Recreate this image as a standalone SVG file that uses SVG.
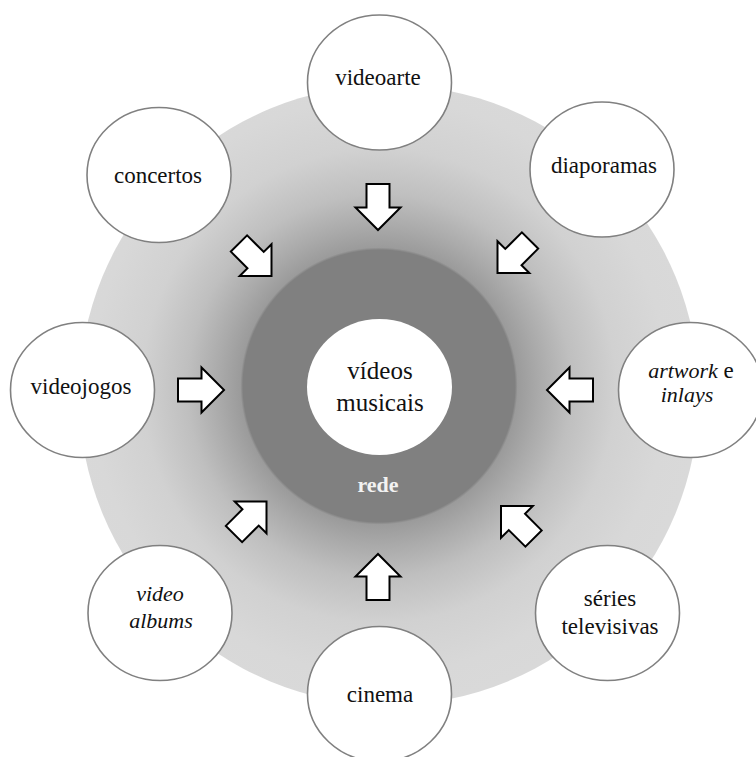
<svg xmlns="http://www.w3.org/2000/svg" xmlns:xlink="http://www.w3.org/1999/xlink" width="756" height="757" viewBox="0 0 756 757">
  <defs>
    <!-- radial field: flat dark core, then a ramp out to pale grey -->
    <radialGradient id="field" gradientUnits="userSpaceOnUse" cx="379" cy="386" r="320">
      <stop offset="0" stop-color="#808080"/>
      <stop offset="0.425" stop-color="#808080"/>
      <stop offset="0.433" stop-color="#9b9b9b"/>
      <stop offset="0.5" stop-color="#aaaaaa"/>
      <stop offset="0.6" stop-color="#bfbfbf"/>
      <stop offset="0.74" stop-color="#d1d1d1"/>
      <stop offset="0.9" stop-color="#d8d8d8"/>
      <stop offset="1" stop-color="#d9d9d9"/>
    </radialGradient>
    <!-- block arrow, tip at the origin, pointing along +x -->
    <path id="arrow" d="M-46,-11.5 H-22.5 V-22.5 L0,0 L-22.5,22.5 V11.5 H-46 Z"/>
  </defs>
  <style>
    .node ellipse { fill: #ffffff; stroke: #808080; stroke-width: 1.6; }
    .label { font-family: "Liberation Serif", "Times New Roman", serif; font-size: 23px; fill: #111111; text-anchor: middle; }
    .it { font-style: italic; font-size: 22px; }
    .up { font-style: normal; font-size: 23px; }
    .core-label { font-family: "Liberation Serif", "Times New Roman", serif; font-size: 25px; fill: #111111; text-anchor: middle; }
    .rede { font-family: "Liberation Serif", "Times New Roman", serif; font-size: 22px; font-weight: bold; fill: #f2f2f2; text-anchor: middle; }
    #connectors use { fill: #ffffff; stroke: #000000; stroke-width: 2; stroke-linejoin: miter; }
  </style>

  <!-- background field -->
  <circle cx="389" cy="395" r="310" fill="url(#field)"/>

  <!-- centre -->
  <g id="centre">
    <ellipse cx="379.5" cy="387" rx="72.5" ry="68" fill="#ffffff"/>
    <text class="core-label" x="380" y="379">vídeos</text>
    <text class="core-label" x="380" y="411">musicais</text>
    <text class="rede" x="378" y="492">rede</text>
  </g>

  <!-- arrows pointing inwards -->
  <g id="connectors">
    <use xlink:href="#arrow" transform="translate(378,230) rotate(90)"/>
    <use xlink:href="#arrow" transform="translate(497.5,273) rotate(135)"/>
    <use xlink:href="#arrow" transform="translate(547,390) rotate(180)"/>
    <use xlink:href="#arrow" transform="translate(501,506) rotate(-135)"/>
    <use xlink:href="#arrow" transform="translate(378,554) rotate(-90)"/>
    <use xlink:href="#arrow" transform="translate(266.5,501.5) rotate(-45)"/>
    <use xlink:href="#arrow" transform="translate(224,390) rotate(0)"/>
    <use xlink:href="#arrow" transform="translate(271.5,276) rotate(45)"/>
  </g>

  <!-- outer nodes -->
  <g id="videoarte" class="node">
    <ellipse cx="379.5" cy="82.5" rx="72" ry="67.5"/>
    <text class="label" x="378" y="85">videoarte</text>
  </g>
  <g id="diaporamas" class="node">
    <ellipse cx="602" cy="169.5" rx="72" ry="67.5"/>
    <text class="label" x="604" y="173">diaporamas</text>
  </g>
  <g id="artwork-inlays" class="node">
    <ellipse cx="690.5" cy="390" rx="72" ry="67.5"/>
    <text class="label" x="691" y="378"><tspan class="it">artwork</tspan><tspan class="up"> e</tspan></text>
    <text class="label it" x="687" y="402">inlays</text>
  </g>
  <g id="series-televisivas" class="node">
    <ellipse cx="607.5" cy="613" rx="72" ry="67.5"/>
    <text class="label" x="610" y="606">séries</text>
    <text class="label" x="610" y="634">televisivas</text>
  </g>
  <g id="cinema" class="node">
    <ellipse cx="379.5" cy="694" rx="72" ry="67.5"/>
    <text class="label" x="380" y="702">cinema</text>
  </g>
  <g id="video-albums" class="node">
    <ellipse cx="160" cy="613" rx="72" ry="67.5"/>
    <text class="label it" x="160" y="601">video</text>
    <text class="label it" x="161" y="628">albums</text>
  </g>
  <g id="videojogos" class="node">
    <ellipse cx="82.5" cy="390" rx="72" ry="67.5"/>
    <text class="label" x="81" y="394">videojogos</text>
  </g>
  <g id="concertos" class="node">
    <ellipse cx="159" cy="175" rx="72" ry="67.5"/>
    <text class="label" x="158" y="183">concertos</text>
  </g>
</svg>
